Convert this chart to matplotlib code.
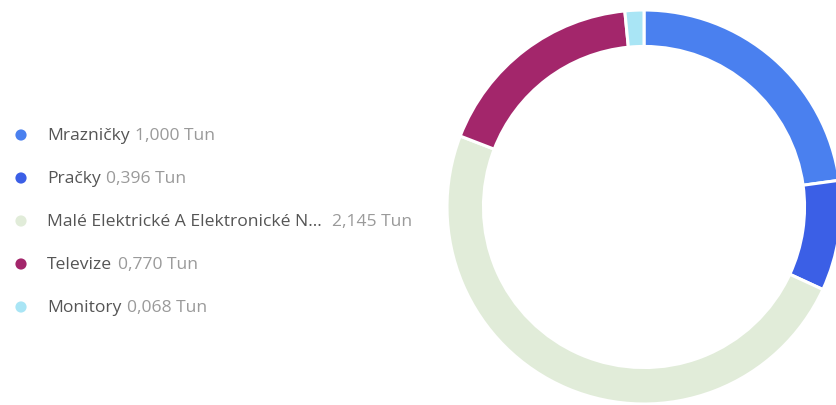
import matplotlib.pyplot as plt

# Data
names = ["Mrazničky", "Pračky", "Malé Elektrické A Elektronické N... ", "Televize", "Monitory"]
values = [1.000, 0.396, 2.145, 0.770, 0.068]
unit = "Tun"
colors = ["#4a80ef", "#3b5fe6", "#e1ecd9", "#a3266b", "#a9e5f5"]

plt.rcParams['font.family'] = ['Open Sans', 'DejaVu Sans']

W, H = 836, 406
fig = plt.figure(figsize=(W / 100, H / 100), dpi=100)

# Donut (centre ~ (644, 208) px, outer radius ~197 px)
cx, cy, r = 644, 208, 197
ax = fig.add_axes([(cx - r) / W, (H - cy - r) / H, 2 * r / W, 2 * r / H])
ax.pie(values, colors=colors, startangle=90, counterclock=False, radius=1,
       wedgeprops=dict(width=0.185, edgecolor="white", linewidth=2.2))
ax.set_xlim(-1, 1)
ax.set_ylim(-1, 1)
ax.axis("off")

# Legend
lax = fig.add_axes([0, 0, 1, 1])
lax.set_xlim(0, W)
lax.set_ylim(H, 0)
lax.axis("off")
row_y = [136, 179, 222, 265, 308]
for y, name, v, c in zip(row_y, names, values, colors):
    lax.scatter([21], [y], s=65, color=c, edgecolors="none")
    t = lax.text(47, y, name, fontsize=12.6, color="#555555", va="center")
    lax.annotate(f"{v:.3f}".replace(".", ",") + " " + unit, xy=(1, 0.5), xycoords=t,
                 xytext=(4, 0), textcoords="offset points", va="center",
                 fontsize=12.6, color="#9a9a9a")

fig.savefig("out.png", dpi=100)
